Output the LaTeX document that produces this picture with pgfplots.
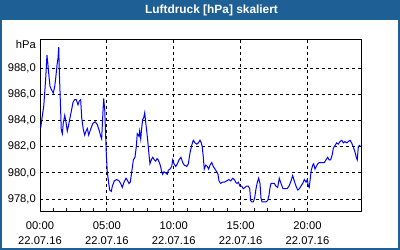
\documentclass[border=0pt]{standalone}
\usepackage{pgfplots}
\pgfplotsset{compat=1.18}
\usepackage{pgfplotstable}
\usepackage{fontspec}
\setmainfont{Liberation Sans}
\definecolor{barblue}{RGB}{30,95,150}
\pgfplotstableread{
x y
0.05 983.42
0.15 984.2
0.28 985.1
0.35 986.1
0.43 987.3
0.52 989.0
0.60 988.2
0.67 987.4
0.75 986.6
0.84 986.4
0.99 986.1
1.10 986.6
1.17 987.2
1.27 988.2
1.35 988.8
1.40 989.6
1.44 987.9
1.52 985.5
1.59 983.3
1.67 983.0
1.74 983.8
1.85 984.4
1.94 983.9
2.04 983.2
2.15 983.7
2.24 984.2
2.34 984.7
2.47 985.4
2.59 985.6
2.71 985.6
2.84 985.2
2.94 985.5
3.04 985.6
3.12 984.2
3.24 983.3
3.34 982.9
3.44 983.2
3.54 983.4
3.64 982.9
3.74 983.2
3.84 983.5
3.96 983.8
4.13 983.9
4.28 983.7
4.41 983.3
4.54 982.8
4.61 982.6
4.69 984.3
4.76 985.7
4.84 984.8
4.91 982.8
4.96 981.4
5.03 980.1
5.14 979.2
5.21 978.7
5.33 978.6
5.41 979.0
5.56 979.4
5.73 979.5
5.91 979.4
6.03 979.2
6.15 978.9
6.28 979.3
6.43 979.6
6.56 979.4
6.65 979.2
6.75 979.3
6.86 980.1
6.98 981.0
7.10 981.2
7.20 982.0
7.27 983.0
7.40 982.8
7.45 983.2
7.53 982.6
7.60 983.4
7.68 984.1
7.75 984.2
7.83 984.6
7.90 983.9
8.00 983.0
8.07 982.3
8.15 981.4
8.22 980.7
8.32 981.0
8.43 981.2
8.55 981.0
8.65 980.9
8.75 981.1
8.84 981.0
8.92 980.8
8.99 980.6
9.10 980.1
9.17 979.9
9.27 980.1
9.40 980.0
9.52 979.9
9.59 980.2
9.72 980.3
9.85 980.5
9.92 981.0
10.02 980.7
10.15 980.5
10.27 980.7
10.39 981.0
10.54 981.2
10.67 980.8
10.79 980.6
10.97 980.5
11.09 980.7
11.21 981.5
11.34 982.1
11.46 982.5
11.59 982.3
11.72 982.2
11.84 982.3
11.96 982.5
12.06 982.3
12.13 982.0
12.21 981.2
12.28 980.3
12.39 980.6
12.51 980.5
12.61 980.3
12.71 980.6
12.84 980.8
12.96 980.5
13.08 980.3
13.21 980.1
13.31 979.9
13.38 979.4
13.51 979.2
13.63 979.3
13.78 979.3
13.96 979.4
14.11 979.5
14.26 979.4
14.41 979.6
14.53 979.5
14.63 979.3
14.73 979.2
14.83 979.3
14.95 979.0
15.08 979.0
15.20 978.8
15.33 978.9
15.45 979.0
15.57 979.0
15.68 978.8
15.75 977.9
15.83 977.8
15.95 977.8
16.05 978.1
16.15 978.8
16.25 979.3
16.35 979.6
16.45 979.2
16.52 978.1
16.60 977.8
16.75 977.8
16.90 977.8
17.02 977.9
17.12 978.3
17.20 978.9
17.27 979.2
17.40 979.2
17.52 979.2
17.64 979.0
17.77 978.9
17.89 979.6
18.02 979.2
18.17 978.8
18.32 978.8
18.47 978.8
18.62 979.0
18.77 979.4
18.89 979.8
19.01 979.4
19.14 979.0
19.27 978.7
19.39 978.8
19.51 979.0
19.64 979.2
19.76 979.5
19.89 979.3
19.99 979.5
20.06 979.0
20.13 978.9
20.21 979.6
20.28 980.2
20.39 980.6
20.46 980.7
20.56 980.3
20.66 980.5
20.76 980.7
20.88 980.8
21.01 980.8
21.14 980.8
21.26 980.8
21.38 981.0
21.51 981.2
21.61 981.0
21.73 981.0
21.85 981.4
21.93 981.9
22.06 982.1
22.18 982.3
22.30 982.2
22.43 982.4
22.56 982.5
22.68 982.3
22.80 982.4
22.93 982.3
23.05 982.4
23.18 982.5
23.30 982.3
23.42 982.0
23.55 981.6
23.65 981.2
23.72 981.0
23.80 982.0
23.87 982.1
23.95 982.1
}\pressure
\begin{document}
\begin{tikzpicture}
\useasboundingbox (0,0) rectangle (400bp,250bp);
\fill[white] (0,0) rectangle (400bp,250bp);
\fill[barblue] (0,230bp) rectangle (400bp,250bp);
\draw[barblue, line width=2bp] (1bp,1bp) rectangle (399bp,249bp);
\node[anchor=base, text=white, font=\fontsize{11.9bp}{14bp}\selectfont\bfseries, inner sep=0pt] at (211.5bp,236bp) {Luftdruck [hPa] skaliert};
\begin{axis}[
  name=ax,
  at={(40bp,39bp)}, anchor=south west,
  scale only axis, width=321bp, height=171bp,
  xmin=0, xmax=24, ymin=977.1, ymax=990.15,
  xtick={0,5,10,15,20},
  xticklabels={{00:00\\22.07.16},{05:00\\22.07.16},{10:00\\22.07.16},{15:00\\22.07.16},{20:00\\22.07.16}},
  minor x tick num=4,
  ytick={978,980,982,984,986,988},
  yticklabel={\pgfmathprintnumber[fixed, fixed zerofill, precision=1, use comma]{\tick}},
  /pgf/number format/assume math mode=true,
  xtick pos=bottom,
  ytick style={draw=none},
  xtick style={black, line width=1bp},
  minor tick style={black, line width=1bp},
  major tick length=3bp, minor tick length=3bp,
  tick align=inside,
  grid=major,
  major grid style={black, line width=1bp, dash pattern=on 3bp off 3bp},
  axis line style={black, line width=1bp},
  ticklabel style={font=\fontsize{11.2bp}{15bp}\selectfont, inner sep=0pt},
  yticklabel style={anchor=east, xshift=-4bp},
  xticklabel style={align=center, anchor=north, yshift=-10.5bp},
  clip=true,
]
\addplot[blue, line width=1bp] table[x=x, y=y] {\pressure};
\end{axis}
\node[anchor=base east, font=\fontsize{11.2bp}{13bp}\selectfont, inner sep=0pt] at ([xshift=-4bp, yshift=-8.3bp]ax.north west) {hPa};
\end{tikzpicture}
\end{document}
